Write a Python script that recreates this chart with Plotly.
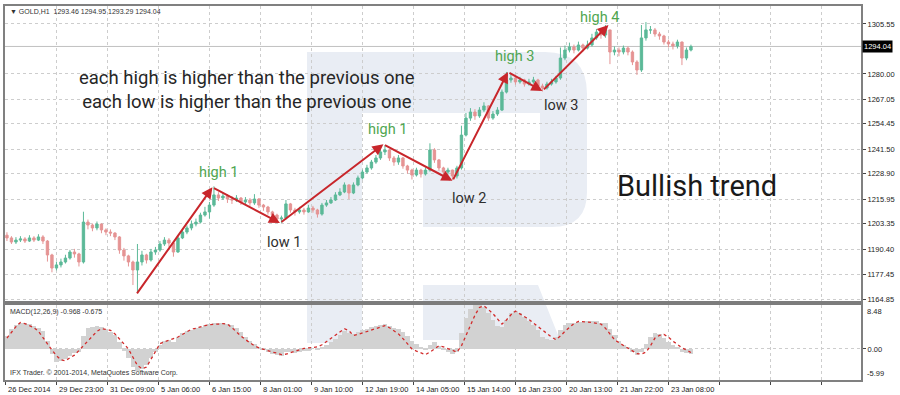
import plotly.graph_objects as go

# ---------------- data ----------------
# one candle = 3 hourly bars ; one date label every 34 hourly bars
BARS_PER_CANDLE = 3
BARS_PER_LABEL = 34
first_open = 1197.5
closes = [
    1196.1, 1194.0, 1195.0, 1195.6, 1194.5, 1196.1, 1195.0, 1196.6, 1194.5, 1187.4,
    1180.7, 1182.3, 1183.8, 1185.8, 1188.9, 1187.9, 1183.8, 1204.2, 1202.7, 1201.2,
    1203.2, 1200.2, 1199.1, 1198.6, 1196.6, 1189.9, 1186.9, 1183.8, 1179.7, 1183.8,
    1187.4, 1184.8, 1188.9, 1189.9, 1193.0, 1195.0, 1193.5, 1188.9, 1196.1, 1199.1,
    1201.2, 1203.2, 1204.2, 1207.8, 1209.4, 1212.9, 1218.1, 1216.5, 1217.5, 1216.0,
    1215.5, 1216.5, 1214.5, 1215.5, 1214.0, 1216.0, 1212.9, 1211.9, 1209.4, 1207.8,
    1205.8, 1206.3, 1213.5, 1210.4, 1209.4, 1210.4, 1209.4, 1211.4, 1210.4, 1208.3,
    1212.9, 1214.0, 1215.5, 1218.1, 1219.6, 1223.2, 1219.1, 1223.2, 1226.8, 1229.8,
    1231.9, 1234.9, 1237.0, 1240.1, 1241.1, 1237.0, 1234.9, 1237.0, 1232.9, 1230.8,
    1228.3, 1230.8, 1228.8, 1230.8, 1241.1, 1236.0, 1231.9, 1229.8, 1230.8, 1227.8,
    1231.9, 1248.7, 1257.4, 1260.5, 1258.5, 1261.5, 1263.6, 1257.4, 1259.5, 1261.5,
    1270.7, 1276.9, 1277.9, 1275.9, 1276.9, 1274.8, 1275.9, 1276.9, 1273.8, 1272.8,
    1274.8, 1275.9, 1277.9, 1288.1, 1292.2, 1293.8, 1292.2, 1294.8, 1293.2, 1294.8,
    1298.4, 1301.4, 1299.9, 1302.5, 1291.2, 1292.2, 1291.2, 1293.2, 1291.2, 1286.1,
    1282.0, 1298.4, 1302.5, 1302.5, 1300.4, 1299.4, 1296.3, 1295.3, 1294.3, 1296.3,
    1288.1, 1292.2, 1294.04]
highs = [
    1199.0, 1197.0, 1196.5, 1197.0, 1196.5, 1197.5, 1197.0, 1198.0, 1197.5, 1195.0,
    1188.0, 1184.0, 1185.5, 1187.5, 1190.0, 1190.5, 1188.5, 1209.5, 1205.5, 1203.5,
    1204.5, 1203.5, 1201.0, 1200.5, 1199.0, 1197.0, 1191.0, 1187.5, 1184.5, 1193.0,
    1189.5, 1188.0, 1190.5, 1191.5, 1194.5, 1196.5, 1196.0, 1194.0, 1197.5, 1201.0,
    1202.5, 1205.0, 1206.0, 1209.0, 1212.0, 1214.5, 1222.5, 1219.5, 1219.0, 1218.5,
    1217.5, 1218.0, 1217.0, 1217.0, 1216.5, 1218.5, 1216.5, 1213.5, 1212.5, 1210.0,
    1208.5, 1207.5, 1215.5, 1214.0, 1211.5, 1212.0, 1211.5, 1213.0, 1212.5, 1211.0,
    1214.0, 1215.5, 1217.0, 1219.5, 1221.5, 1224.5, 1223.5, 1224.5, 1228.0, 1231.0,
    1233.5, 1236.0, 1238.5, 1241.5, 1243.5, 1241.5, 1238.0, 1238.5, 1237.5, 1233.5,
    1231.5, 1232.0, 1231.5, 1232.0, 1244.5, 1242.0, 1236.5, 1232.5, 1232.0, 1231.0,
    1233.0, 1253.5, 1260.0, 1262.5, 1262.0, 1263.0, 1265.5, 1264.0, 1261.0, 1263.0,
    1272.0, 1281.0, 1280.0, 1279.0, 1278.5, 1277.5, 1277.5, 1278.5, 1277.5, 1275.0,
    1276.0, 1277.5, 1279.0, 1293.5, 1294.5, 1296.0, 1295.0, 1296.5, 1295.5, 1297.0,
    1300.5, 1303.0, 1302.0, 1305.0, 1302.5, 1294.0, 1293.5, 1294.5, 1294.0, 1292.0,
    1287.0, 1305.0, 1306.5, 1304.5, 1303.5, 1301.5, 1300.0, 1297.5, 1296.5, 1297.5,
    1296.5, 1293.5, 1294.95]
lows = [
    1194.5, 1193.0, 1193.0, 1194.0, 1193.5, 1194.0, 1194.0, 1194.5, 1193.0, 1184.0,
    1178.5, 1179.5, 1181.0, 1183.0, 1185.0, 1186.0, 1181.5, 1183.0, 1200.5, 1199.5,
    1200.0, 1198.5, 1197.5, 1197.0, 1195.0, 1188.0, 1184.5, 1181.5, 1172.0, 1168.5,
    1182.0, 1183.0, 1184.0, 1187.5, 1189.0, 1192.0, 1191.5, 1186.5, 1188.5, 1195.5,
    1198.0, 1200.0, 1202.0, 1203.5, 1207.0, 1206.0, 1212.0, 1215.0, 1215.5, 1214.0,
    1213.5, 1214.5, 1213.0, 1213.0, 1212.5, 1213.0, 1211.5, 1210.0, 1208.0, 1206.5,
    1204.5, 1203.8, 1205.5, 1209.0, 1207.5, 1208.5, 1208.0, 1209.0, 1209.0, 1206.5,
    1207.5, 1212.0, 1213.5, 1215.0, 1217.5, 1219.0, 1216.0, 1218.5, 1222.5, 1226.0,
    1229.0, 1231.0, 1234.0, 1236.0, 1238.5, 1235.5, 1233.0, 1233.5, 1231.5, 1229.0,
    1226.0, 1227.5, 1227.0, 1228.0, 1230.0, 1234.5, 1230.5, 1228.0, 1228.5, 1225.8,
    1226.5, 1231.0, 1248.0, 1256.0, 1256.5, 1257.5, 1260.5, 1256.0, 1256.5, 1258.5,
    1261.0, 1270.0, 1275.5, 1274.5, 1275.0, 1273.5, 1274.0, 1275.0, 1272.5, 1271.0,
    1272.0, 1274.0, 1275.0, 1277.0, 1287.0, 1291.0, 1290.5, 1291.5, 1291.5, 1292.5,
    1294.0, 1297.5, 1298.0, 1298.5, 1285.0, 1289.5, 1289.0, 1290.0, 1289.5, 1284.5,
    1279.5, 1281.0, 1297.0, 1300.5, 1299.0, 1297.5, 1295.0, 1293.5, 1292.5, 1293.0,
    1284.5, 1287.0, 1291.5]
macd_main = [
    2.5, 3.8, 4.6, 5.0, 5.1, 4.8, 4.4, 4.0, 3.5, 1.5,
    -1.0, -2.5, -2.4, -2.0, -1.3, -0.8, -0.6, 2.5, 4.0, 4.3,
    4.4, 4.2, 3.8, 3.2, 2.6, 1.3, -0.3, -1.8, -3.5, -4.2,
    -3.8, -3.0, -1.8, -0.5, 0.8, 1.5, 1.8, 1.4, 2.3, 3.0,
    3.4, 3.7, 4.0, 4.3, 4.6, 4.8, 5.1, 5.1, 5.0, 4.9,
    4.6, 4.0, 3.2, 2.4, 1.6, 1.0, 0.4, -0.2, -0.6, -0.9,
    -1.2, -1.3, -0.5, -0.6, -0.7, -0.6, -0.4, -0.3, 0.0, -0.2,
    0.3, 0.8, 1.4, 2.0, 2.7, 3.5, 3.0, 2.8, 3.2, 3.6,
    3.9, 4.2, 4.4, 4.7, 4.8, 4.4, 4.0, 3.8, 3.2, 2.5,
    1.6, 1.0, 0.4, -0.2, 0.8, 1.3, 0.6, -0.2, -0.6, -1.0,
    -0.6, 3.0, 6.0, 7.8, 8.4, 8.5, 8.0, 7.0, 5.6, 4.5,
    4.2, 5.6, 7.0, 7.4, 7.0, 6.2, 5.4, 4.6, 3.6, 2.4,
    1.9, 1.8, 2.3, 3.6, 4.6, 5.0, 5.1, 5.2, 5.2, 5.3,
    5.3, 5.4, 5.1, 5.0, 3.8, 2.6, 1.6, 0.8, 0.2, -0.5,
    -1.2, -0.6, 1.0, 2.4, 3.0, 2.8, 2.2, 1.4, 0.8, 0.4,
    -0.5, -0.8, -0.968]
macd_signal = [
    2.1, 3.2, 4.3, 5.1, 4.9, 4.5, 4.1, 3.4, 2.3, 1.0,
    -0.2, -1.3, -2.1, -2.3, -1.7, -1.2, -0.3, 0.6, 1.6, 2.6,
    3.4, 3.9, 3.8, 3.6, 2.9, 1.9, 1.0, 0.0, -1.6, -3.2,
    -3.8, -3.5, -2.0, -0.4, 1.0, 1.4, 1.7, 2.0, 2.3, 2.8,
    3.3, 3.8, 4.0, 4.3, 4.5, 4.7, 4.7, 4.8, 4.9, 4.8,
    4.1, 3.2, 2.5, 1.8, 1.2, 0.6, 0.2, -0.1, -0.3, -0.6,
    -0.8, -1.1, -1.0, -0.7, -0.4, -0.1, 0.1, 0.2, 0.3, 0.4,
    0.8, 1.4, 2.0, 2.7, 3.3, 3.9, 3.5, 2.6, 2.8, 3.1,
    3.4, 3.7, 4.0, 4.2, 4.5, 4.1, 3.5, 2.9, 2.0, 1.0,
    0.0, -0.4, -0.8, -1.1, -0.6, 0.0, 0.6, 0.4, 0.1, -0.3,
    -0.6, 0.6, 2.5, 4.4, 6.5, 8.0, 8.3, 7.6, 6.8, 5.8,
    4.8, 5.6, 6.6, 7.3, 6.8, 6.2, 5.7, 5.0, 4.3, 3.6,
    2.9, 2.3, 1.8, 2.5, 3.4, 4.2, 4.9, 5.3, 5.3, 5.2,
    5.1, 5.0, 4.8, 4.0, 2.9, 1.8, 1.2, 0.7, 0.1, -0.4,
    -0.9, -1.0, -0.6, 0.6, 2.1, 2.6, 2.8, 2.3, 1.5, 0.9,
    0.2, -0.2, -0.675]
date_labels = ["26 Dec 2014", "29 Dec 23:00", "31 Dec 09:00", "5 Jan 06:00",
               "6 Jan 15:00", "8 Jan 01:00", "9 Jan 10:00", "12 Jan 19:00",
               "14 Jan 05:00", "15 Jan 14:00", "16 Jan 23:00", "20 Jan 13:00",
               "21 Jan 22:00", "23 Jan 08:00"]
price_ticks = [1305.55, 1280.00, 1267.05, 1254.45, 1241.50, 1228.90,
               1215.95, 1203.35, 1190.40, 1177.45, 1164.85]
macd_top, macd_bottom = 8.48, -5.99
bid_price = 1294.04
ohlc_header = "GOLD,H1  1293.46 1294.95 1293.29 1294.04"
macd_header = "MACD(12,26,9) -0.968 -0.675"
copyright_text = "IFX Trader. © 2001-2014, MetaQuotes Software Corp."
# swing points (hourly bar index, price)
pivot_bars = [87, 138, 183, 252, 298, 335, 358, 402]
pivot_prices = [1167.0, 1222.0, 1203.7, 1244.0, 1225.3, 1281.0, 1271.3, 1305.0]
pivot_labels = ["", "high 1", "low 1", "high 1", "low 2", "high 3", "low 3", "high 4"]

# ---------------- derived ----------------
opens = [first_open] + closes[:-1]
candle_x = [BARS_PER_CANDLE * k + 1 for k in range(len(closes))]
label_bars = [BARS_PER_LABEL * i for i in range(len(date_labels))]
grid_bars = [BARS_PER_LABEL * i for i in range(17)]

W, H = 900, 395
L, R, T, B = 5, 39, 6, 15
PW, PH = W - L - R, H - T - B


def pxx(x):
    return (x - L) / PW


def pxy(y):
    return (H - B - y) / PH


price_dom = [pxy(301), 1.0]
macd_dom = [0.0, pxy(305)]
x0 = -0.3
x_range = [x0, x0 + PW / 1.5]
y_range = [1317.8 - 0.5115 * 301, 1317.8 - 0.5115 * 6]

GRID = "#cdcdcd"
FRAME = "#808080"
TICKFONT = dict(family="Liberation Sans, Arial", size=7.5, color="#222")

fig = go.Figure()
fig.add_trace(go.Candlestick(
    x=candle_x, open=opens, high=highs, low=lows, close=closes,
    increasing=dict(line=dict(color="#5cb998", width=1), fillcolor="#5cb998"),
    decreasing=dict(line=dict(color="#e59494", width=1), fillcolor="#e59494"),
    xaxis="x", yaxis="y", hoverinfo="skip", showlegend=False))
fig.add_trace(go.Bar(
    x=candle_x, y=macd_main, width=BARS_PER_CANDLE, marker=dict(color="#d2d2d2", line=dict(width=0)),
    xaxis="x2", yaxis="y2", showlegend=False, hoverinfo="skip"))
fig.add_trace(go.Scatter(
    x=candle_x, y=macd_signal, mode="lines", line=dict(color="#d22b2b", width=1.3, dash="dot"),
    xaxis="x2", yaxis="y2", showlegend=False, hoverinfo="skip"))

# ---------------- watermark (decorative) ----------------
def path(points):
    s = ""
    for cmd, pts in points:
        s += cmd + " " + " ".join(f"{pxx(a):.5f},{pxy(b):.5f}" for a, b in pts) + " "
    return s + "Z"

WM = "#e9edf4"
shapes = [
    dict(type="path", xref="paper", yref="paper", layer="below", fillcolor=WM, line=dict(width=0),
         path=path([("M", [(307, 52)]), ("L", [(545, 52)]), ("Q", [(587, 52), (587, 94)]),
                    ("L", [(587, 192)]), ("Q", [(587, 227), (552, 227)]), ("L", [(423, 227)]),
                    ("L", [(423, 170)]), ("L", [(540, 170)]), ("L", [(540, 113)]),
                    ("L", [(362, 113)]), ("L", [(362, 343)]), ("L", [(307, 343)])])),
    dict(type="path", xref="paper", yref="paper", layer="below", fillcolor=WM, line=dict(width=0),
         path=path([("M", [(423, 285)]), ("L", [(538, 285)]), ("L", [(560, 340)]),
                    ("L", [(423, 340)])])),
    # bid line
    dict(type="line", xref="paper", yref="y", x0=0, x1=1, y0=bid_price, y1=bid_price,
         layer="below", line=dict(color="#c0c0c0", width=1)),
    # separator between the panels
    dict(type="rect", xref="paper", yref="paper", x0=0, x1=1, y0=macd_dom[1], y1=price_dom[0],
         layer="above", fillcolor="#7c7c7c", line=dict(width=0)),
]

ann = []
# swing arrows
for i in range(1, len(pivot_bars)):
    ann.append(dict(x=pivot_bars[i], y=pivot_prices[i], ax=pivot_bars[i - 1], ay=pivot_prices[i - 1],
                    xref="x", yref="y", axref="x", ayref="y", text="", showarrow=True,
                    arrowhead=2, arrowsize=1.1, arrowwidth=2, arrowcolor="#c8262b",
                    standoff=0, startstandoff=0))
label_shift = {1: (6, 15), 2: (4, -19), 3: (4, 15), 4: (17, -18), 5: (7, 15), 6: (19, -15), 7: (-9, 8)}
for i in range(1, len(pivot_bars)):
    is_high = pivot_labels[i].startswith("high")
    dx, dy = label_shift[i]
    ann.append(dict(x=pivot_bars[i], y=pivot_prices[i], xref="x", yref="y", text=pivot_labels[i],
                    showarrow=False, xshift=dx, yshift=dy, xanchor="center", yanchor="middle",
                    font=dict(family="Roboto", size=14.5, color="#4fa650" if is_high else "#2e2e2e")))


def paper_text(x, y, text, font, xanchor="center", yanchor="middle", **kw):
    ann.append(dict(x=pxx(x), y=pxy(y), xref="paper", yref="paper", xanchor=xanchor,
                    yanchor=yanchor, showarrow=False, text=text, font=font, **kw))


paper_text(247, 89.5,
           "each high is higher than the previous one<br>each low is higher than the previous one",
           dict(family="Roboto", size=18.5, color="#262626"), align="center")
paper_text(697, 186, "Bullish trend", dict(family="Roboto", size=29, color="#1a1a1a"))
small = dict(family="Liberation Sans, Arial", size=7, color="#333")
paper_text(8, 12, "▼ " + ohlc_header, small, xanchor="left")
paper_text(8, 312, macd_header, small, xanchor="left")
paper_text(8, 373, copyright_text, small, xanchor="left")
for b, t in zip(label_bars, date_labels):
    ann.append(dict(x=b, y=pxy(389), xref="x2", yref="paper", xanchor="left", yanchor="middle",
                    xshift=1, showarrow=False, text=t, font=TICKFONT))
ann.append(dict(x=1, y=macd_top, xref="paper", yref="y2", xanchor="left", yanchor="top", xshift=4,
                showarrow=False, text=f"{macd_top:.2f}", font=TICKFONT))
ann.append(dict(x=1, y=macd_bottom, xref="paper", yref="y2", xanchor="left", yanchor="bottom", xshift=4,
                showarrow=False, text=f"{macd_bottom:.2f}", font=TICKFONT))
ann.append(dict(x=1, y=bid_price, xref="paper", yref="y", xanchor="left", yanchor="middle", xshift=1,
                showarrow=False, text=f"{bid_price:.2f}", bgcolor="#000000", borderpad=1,
                font=dict(family="Liberation Sans, Arial", size=7.5, color="#ffffff")))

xcommon = dict(range=x_range, tickmode="array", tickvals=grid_bars, showgrid=True,
               gridcolor=GRID, griddash="dot", gridwidth=1, zeroline=False,
               showline=True, mirror=True, linecolor=FRAME, linewidth=2)
fig.update_layout(
    width=W, height=H, margin=dict(l=L, r=R, t=T, b=B, autoexpand=False),
    paper_bgcolor="white", plot_bgcolor="rgba(0,0,0,0)",
    showlegend=False, bargap=0, boxgap=0.25,
    xaxis=dict(**xcommon, domain=[0, 1], anchor="y", showticklabels=False, ticks="",
               rangeslider=dict(visible=False)),
    xaxis2=dict(**xcommon, domain=[0, 1], anchor="y2", matches="x", showticklabels=False,
                ticks="outside", ticklen=3, tickcolor="#444"),
    yaxis=dict(domain=price_dom, range=y_range, side="right", anchor="x",
               tickmode="array", tickvals=price_ticks, ticktext=[f"{v:.2f}" for v in price_ticks],
               tickfont=TICKFONT, ticks="outside", ticklen=3, tickcolor="#444",
               showgrid=True, gridcolor=GRID, griddash="dot", zeroline=False,
               showline=True, mirror=True, linecolor=FRAME, linewidth=2),
    yaxis2=dict(domain=macd_dom, range=[macd_bottom, macd_top], side="right", anchor="x2",
                tickmode="array", tickvals=[0], ticktext=["0.00"], tickfont=TICKFONT,
                ticks="outside", ticklen=3, tickcolor="#444",
                showgrid=True, gridcolor=GRID, griddash="dot", zeroline=False,
                showline=True, mirror=True, linecolor=FRAME, linewidth=2),
    shapes=shapes, annotations=ann,
)
fig.write_html("out.html", config={"displayModeBar": False},
               post_script="document.body.style.margin='0px';")
